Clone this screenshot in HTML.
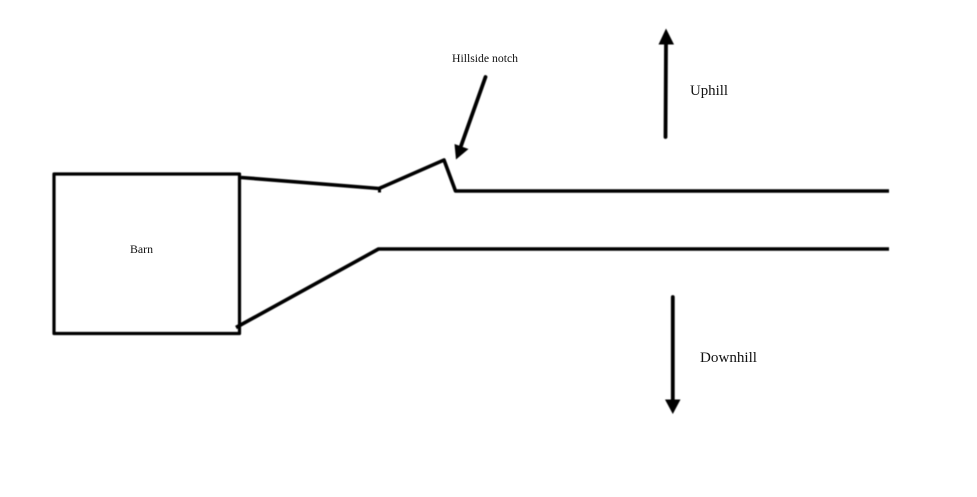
<!DOCTYPE html>
<html>
<head>
<meta charset="utf-8">
<style>
html,body{margin:0;padding:0;background:#fff;width:977px;height:497px;overflow:hidden}
svg{display:block}
text{font-family:"Liberation Serif",serif;fill:#111}
</style>
</head>
<body>
<svg width="977" height="497" viewBox="0 0 977 497" xmlns="http://www.w3.org/2000/svg">
<defs><filter id="b" x="-5%" y="-5%" width="110%" height="110%"><feGaussianBlur stdDeviation="0.4"/></filter></defs>
<rect width="977" height="497" fill="#fff"/>
<g filter="url(#b)">
<g fill="none" stroke="#000" stroke-linejoin="round" stroke-linecap="butt">
<rect x="54" y="174" width="185.500" height="159.500" stroke-width="3.200"/>
<path d="M241 177.500 L379 188.500 L444 160 L455.500 191 H889" stroke-width="3.600"/>
<path d="M379.500 188 V192.500" stroke-width="3"/>
<path d="M236 327.500 L378.500 249 H889" stroke-width="3.600"/>
<path d="M485.500 77 L461 146" stroke-width="3.800" stroke-linecap="round"/>
<path d="M665.500 137 L666 42" stroke-width="3.800" stroke-linecap="round"/>
<path d="M672.800 297 V402" stroke-width="3.800" stroke-linecap="round"/>
</g>
<g fill="#000">
<polygon points="456,159.500 454.500,144 468.500,149"/>
<polygon points="666,28.500 658.500,44.500 674,44.500"/>
<polygon points="672.800,414 665,399.500 680.500,399.500"/>
</g>
</g>
<text x="452" y="62" font-size="12" textLength="66" lengthAdjust="spacingAndGlyphs">Hillside notch</text>
<text x="130" y="253" font-size="12" textLength="23" lengthAdjust="spacingAndGlyphs">Barn</text>
<text x="690" y="95" font-size="15" textLength="38" lengthAdjust="spacingAndGlyphs">Uphill</text>
<text x="700" y="362" font-size="15" textLength="57" lengthAdjust="spacingAndGlyphs">Downhill</text>
</svg>
</body>
</html>
